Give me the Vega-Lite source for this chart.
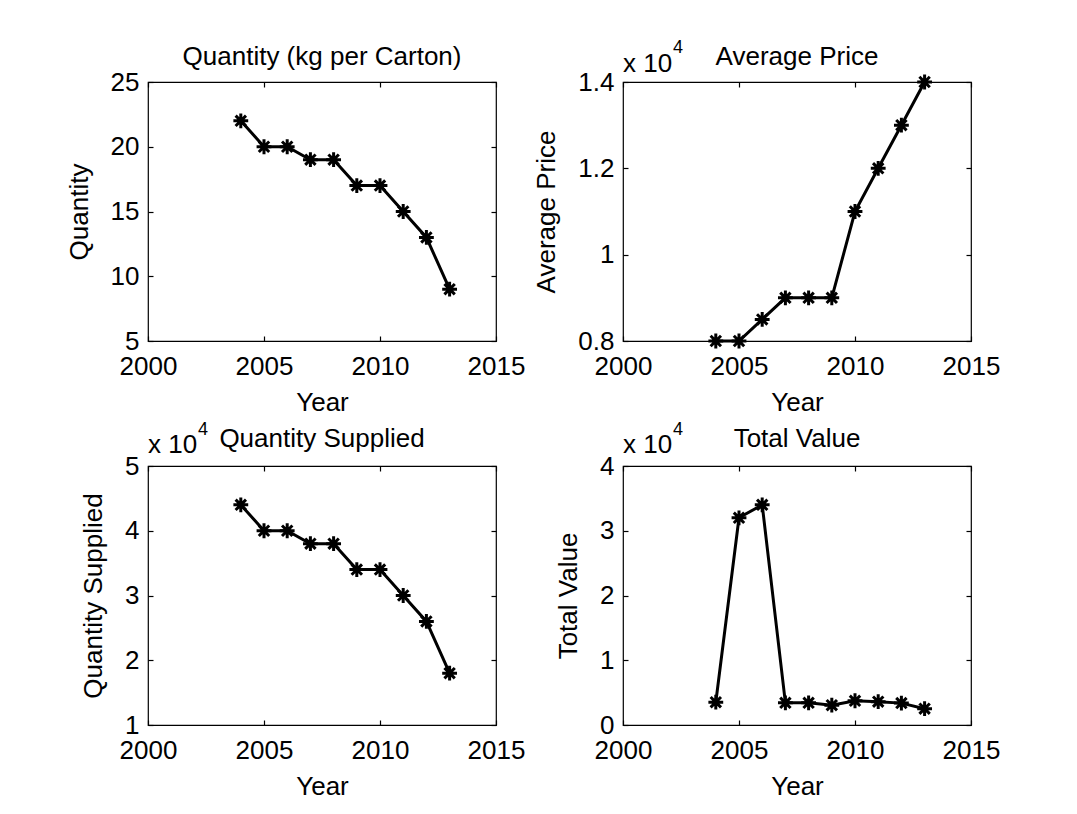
{
  "$schema": "https://vega.github.io/schema/vega-lite/v6.json",
  "background": "white",
  "padding": {"left": 65, "top": 38, "right": 5, "bottom": 5},
  "datasets": {
    "d": [
      {"Year": 2004, "Quantity": 22, "AveragePrice": 8000, "QuantitySupplied": 44000, "TotalValue": 3520},
      {"Year": 2005, "Quantity": 20, "AveragePrice": 8000, "QuantitySupplied": 40000, "TotalValue": 32000},
      {"Year": 2006, "Quantity": 20, "AveragePrice": 8500, "QuantitySupplied": 40000, "TotalValue": 34000},
      {"Year": 2007, "Quantity": 19, "AveragePrice": 9000, "QuantitySupplied": 38000, "TotalValue": 3420},
      {"Year": 2008, "Quantity": 19, "AveragePrice": 9000, "QuantitySupplied": 38000, "TotalValue": 3420},
      {"Year": 2009, "Quantity": 17, "AveragePrice": 9000, "QuantitySupplied": 34000, "TotalValue": 3060},
      {"Year": 2010, "Quantity": 17, "AveragePrice": 11000, "QuantitySupplied": 34000, "TotalValue": 3740},
      {"Year": 2011, "Quantity": 15, "AveragePrice": 12000, "QuantitySupplied": 30000, "TotalValue": 3600},
      {"Year": 2012, "Quantity": 13, "AveragePrice": 13000, "QuantitySupplied": 26000, "TotalValue": 3380},
      {"Year": 2013, "Quantity": 9, "AveragePrice": 14000, "QuantitySupplied": 18000, "TotalValue": 2520}
    ],
    "one": [{"label": "x 10", "exp": "4"}]
  },
  "data": {"name": "d"},
  "columns": 2,
  "bounds": "flush",
  "spacing": {"row": 125, "column": 127},
  "concat": [
    {
      "width": 348, "height": 259,
      "title": {"text": "Quantity (kg per Carton)"},
      "layer": [
        {"mark": {"type": "line", "color": "black", "strokeWidth": 3},
         "encoding": {
           "x": {"field": "Year", "type": "quantitative", "scale": {"domain": [2000, 2015], "nice": false, "zero": false}, "axis": {"orient": "bottom", "values": [2000, 2005, 2010, 2015], "format": "d", "title": "Year"}},
           "y": {"field": "Quantity", "type": "quantitative", "scale": {"domain": [5, 25], "nice": false, "zero": false}, "axis": {"orient": "left", "values": [5, 10, 15, 20, 25], "title": "Quantity"}}}},
        {"mark": {"type": "point", "shape": "M-1,0H1M0,-1V1M-0.7,-0.7L0.7,0.7M-0.7,0.7L0.7,-0.7", "filled": false, "color": "black", "strokeWidth": 3, "size": 220, "opacity": 1},
         "encoding": {
           "x": {"field": "Year", "type": "quantitative", "axis": {"orient": "top", "values": [2000, 2005, 2010, 2015], "labels": false, "title": null}},
           "y": {"field": "Quantity", "type": "quantitative", "axis": {"orient": "right", "values": [5, 10, 15, 20, 25], "labels": false, "title": null}}}}
      ],
      "resolve": {"axis": {"x": "independent", "y": "independent"}}
    },
    {
      "width": 348, "height": 259,
      "title": {"text": "Average Price", "dy": 30},
      "layer": [
        {"mark": {"type": "line", "color": "black", "strokeWidth": 3},
         "encoding": {
           "x": {"field": "Year", "type": "quantitative", "scale": {"domain": [2000, 2015], "nice": false, "zero": false}, "axis": {"orient": "bottom", "values": [2000, 2005, 2010, 2015], "format": "d", "title": "Year"}},
           "y": {"field": "AveragePrice", "type": "quantitative", "scale": {"domain": [8000, 14000], "nice": false, "zero": false}, "axis": {"orient": "left", "values": [8000, 10000, 12000, 14000], "labelExpr": "'' + datum.value / 10000", "title": "Average Price"}}}},
        {"mark": {"type": "point", "shape": "M-1,0H1M0,-1V1M-0.7,-0.7L0.7,0.7M-0.7,0.7L0.7,-0.7", "filled": false, "color": "black", "strokeWidth": 3, "size": 220, "opacity": 1},
         "encoding": {
           "x": {"field": "Year", "type": "quantitative", "axis": {"orient": "top", "values": [2000, 2005, 2010, 2015], "labels": false, "title": null}},
           "y": {"field": "AveragePrice", "type": "quantitative", "axis": {"orient": "right", "values": [8000, 10000, 12000, 14000], "labels": false, "title": null}}}},
        {"data": {"name": "one"},
         "mark": {"type": "text", "align": "left", "baseline": "alphabetic", "dy": -10, "fontSize": 26, "color": "black"},
         "encoding": {"text": {"field": "label"}, "x": {"datum": 2000, "type": "quantitative", "axis": null}, "y": {"datum": 14000, "type": "quantitative", "axis": null}}},
        {"data": {"name": "one"},
         "mark": {"type": "text", "align": "left", "baseline": "alphabetic", "dx": 50, "dy": -29, "fontSize": 18, "color": "black"},
         "encoding": {"text": {"field": "exp"}, "x": {"datum": 2000, "type": "quantitative", "axis": null}, "y": {"datum": 14000, "type": "quantitative", "axis": null}}}
      ],
      "resolve": {"axis": {"x": "independent", "y": "independent"}}
    },
    {
      "width": 348, "height": 259,
      "title": {"text": "Quantity Supplied", "dy": 30},
      "layer": [
        {"mark": {"type": "line", "color": "black", "strokeWidth": 3},
         "encoding": {
           "x": {"field": "Year", "type": "quantitative", "scale": {"domain": [2000, 2015], "nice": false, "zero": false}, "axis": {"orient": "bottom", "values": [2000, 2005, 2010, 2015], "format": "d", "title": "Year"}},
           "y": {"field": "QuantitySupplied", "type": "quantitative", "scale": {"domain": [10000, 50000], "nice": false, "zero": false}, "axis": {"orient": "left", "values": [10000, 20000, 30000, 40000, 50000], "labelExpr": "'' + datum.value / 10000", "title": "Quantity Supplied"}}}},
        {"mark": {"type": "point", "shape": "M-1,0H1M0,-1V1M-0.7,-0.7L0.7,0.7M-0.7,0.7L0.7,-0.7", "filled": false, "color": "black", "strokeWidth": 3, "size": 220, "opacity": 1},
         "encoding": {
           "x": {"field": "Year", "type": "quantitative", "axis": {"orient": "top", "values": [2000, 2005, 2010, 2015], "labels": false, "title": null}},
           "y": {"field": "QuantitySupplied", "type": "quantitative", "axis": {"orient": "right", "values": [10000, 20000, 30000, 40000, 50000], "labels": false, "title": null}}}},
        {"data": {"name": "one"},
         "mark": {"type": "text", "align": "left", "baseline": "alphabetic", "dy": -13, "fontSize": 26, "color": "black"},
         "encoding": {"text": {"field": "label"}, "x": {"datum": 2000, "type": "quantitative", "axis": null}, "y": {"datum": 50000, "type": "quantitative", "axis": null}}},
        {"data": {"name": "one"},
         "mark": {"type": "text", "align": "left", "baseline": "alphabetic", "dx": 50, "dy": -31, "fontSize": 18, "color": "black"},
         "encoding": {"text": {"field": "exp"}, "x": {"datum": 2000, "type": "quantitative", "axis": null}, "y": {"datum": 50000, "type": "quantitative", "axis": null}}}
      ],
      "resolve": {"axis": {"x": "independent", "y": "independent"}}
    },
    {
      "width": 348, "height": 259,
      "title": {"text": "Total Value", "dy": 30},
      "layer": [
        {"mark": {"type": "line", "color": "black", "strokeWidth": 3},
         "encoding": {
           "x": {"field": "Year", "type": "quantitative", "scale": {"domain": [2000, 2015], "nice": false, "zero": false}, "axis": {"orient": "bottom", "values": [2000, 2005, 2010, 2015], "format": "d", "title": "Year"}},
           "y": {"field": "TotalValue", "type": "quantitative", "scale": {"domain": [0, 40000], "nice": false, "zero": false}, "axis": {"orient": "left", "values": [0, 10000, 20000, 30000, 40000], "labelExpr": "'' + datum.value / 10000", "title": "Total Value"}}}},
        {"mark": {"type": "point", "shape": "M-1,0H1M0,-1V1M-0.7,-0.7L0.7,0.7M-0.7,0.7L0.7,-0.7", "filled": false, "color": "black", "strokeWidth": 3, "size": 220, "opacity": 1},
         "encoding": {
           "x": {"field": "Year", "type": "quantitative", "axis": {"orient": "top", "values": [2000, 2005, 2010, 2015], "labels": false, "title": null}},
           "y": {"field": "TotalValue", "type": "quantitative", "axis": {"orient": "right", "values": [0, 10000, 20000, 30000, 40000], "labels": false, "title": null}}}},
        {"data": {"name": "one"},
         "mark": {"type": "text", "align": "left", "baseline": "alphabetic", "dy": -13, "fontSize": 26, "color": "black"},
         "encoding": {"text": {"field": "label"}, "x": {"datum": 2000, "type": "quantitative", "axis": null}, "y": {"datum": 40000, "type": "quantitative", "axis": null}}},
        {"data": {"name": "one"},
         "mark": {"type": "text", "align": "left", "baseline": "alphabetic", "dx": 50, "dy": -31, "fontSize": 18, "color": "black"},
         "encoding": {"text": {"field": "exp"}, "x": {"datum": 2000, "type": "quantitative", "axis": null}, "y": {"datum": 40000, "type": "quantitative", "axis": null}}}
      ],
      "resolve": {"axis": {"x": "independent", "y": "independent"}}
    }
  ],
  "config": {
    "font": "Liberation Sans",
    "view": {"stroke": "black", "strokeWidth": 1.2},
    "axis": {"domain": false, "grid": false, "ticks": true, "tickColor": "black", "tickSize": -5, "tickWidth": 1.2, "labelFont": "Liberation Sans", "labelFontSize": 26, "labelColor": "black", "labelFlush": false, "labelOverlap": false, "titleFont": "Liberation Sans", "titleFontSize": 26, "titleFontWeight": "normal", "titleColor": "black"},
    "axisX": {"labelPadding": 17, "titlePadding": 10},
    "axisY": {"labelPadding": 14, "titlePadding": 18},
    "title": {"font": "Liberation Sans", "fontSize": 26, "fontWeight": "normal", "color": "black", "frame": "group", "anchor": "middle", "offset": -1}
  }
}
